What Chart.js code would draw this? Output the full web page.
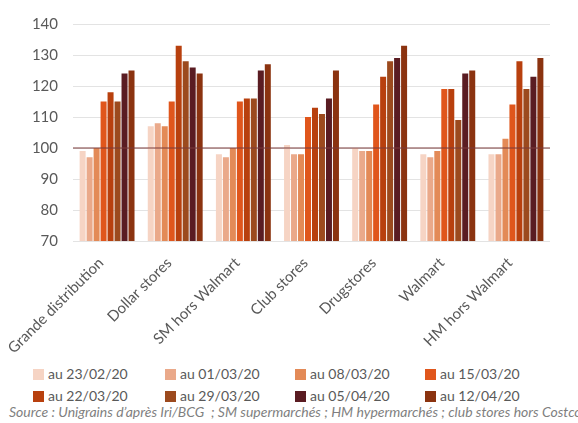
<!DOCTYPE html>
<html><head><meta charset="utf-8">
<script src="https://cdn.jsdelivr.net/npm/chart.js@4"></script>
<style>
html,body{margin:0;padding:0;background:#fff;width:578px;height:423px;overflow:hidden;font-family:Lato,"Open Sans",sans-serif}
#wrap{position:absolute;left:0;top:0;width:578px;height:360px}
.li{position:absolute;font-size:14px;color:#595959;white-space:nowrap;line-height:16px}
.sw{display:inline-block;width:11px;height:11px;margin-right:4px;vertical-align:-1px}
#src{position:absolute;left:9px;top:403px;font-size:14px;font-style:italic;color:#7f7f7f;white-space:nowrap}
</style>
</head><body>
<div id="wrap"><canvas id="c" width="578" height="360"></canvas></div>
<div id="legend"></div>
<div id="src">Source : Unigrains d’après Iri/BCG&nbsp; ; SM supermarchés ; HM hypermarchés ; club stores hors Costco</div>
<script>
const categories = ["Grande distribution","Dollar stores","SM hors Walmart","Club stores","Drugstores","Walmart","HM hors Walmart"];
const seriesLabels = ["au 23/02/20","au 01/03/20","au 08/03/20","au 15/03/20","au 22/03/20","au 29/03/20","au 05/04/20","au 12/04/20"];
const s1 = [99, 107, 98, 101, 100, 98, 98];
const s2 = [97, 108, 97, 98, 99, 97, 98];
const s3 = [100, 107, 100, 98, 99, 99, 103];
const s4 = [115, 115, 115, 110, 114, 119, 114];
const s5 = [118, 133, 116, 113, 123, 119, 128];
const s6 = [115, 128, 116, 111, 128, 109, 119];
const s7 = [124, 126, 125, 116, 129, 124, 123];
const s8 = [125, 124, 127, 125, 133, 125, 129];
const seriesValues = [s1, s2, s3, s4, s5, s6, s7, s8];
const yTicks = [70, 80, 90, 100, 110, 120, 130, 140];
const refValue = 100;

const colors = ["#f6d4c4","#eaa98a","#e38a57","#e0561c","#b8400e","#9c4a1e","#5a1c22","#8b3310"];

const refLine = {
  id: 'refLine',
  afterDatasetsDraw(chart) {
    const y = chart.scales.y.getPixelForValue(refValue);
    const ctx = chart.ctx, a = chart.chartArea;
    ctx.save();
    ctx.strokeStyle = '#7a3a3a';
    ctx.lineWidth = 1.2;
    ctx.beginPath();
    ctx.moveTo(a.left, y); ctx.lineTo(a.right, y);
    ctx.stroke();
    ctx.restore();
  }
};

new Chart(document.getElementById('c'), {
  type: 'bar',
  data: {
    labels: categories,
    datasets: seriesValues.map((v, i) => ({
      label: seriesLabels[i], data: v, backgroundColor: colors[i],
      categoryPercentage: 0.82, barPercentage: 0.86
    }))
  },
  options: {
    responsive: false, animation: false, devicePixelRatio: 1,
    layout: { padding: { top: 17, right: 28, left: 0, bottom: 0 } },
    plugins: { legend: { display: false }, tooltip: { enabled: false } },
    scales: {
      y: {
        min: 70, max: 140,
        afterFit: s => { s.width = 73; },
        afterBuildTicks: s => { s.ticks = yTicks.map(v => ({ value: v })); },
        border: { display: false },
        grid: { color: '#e3e3e3', drawTicks: false, lineWidth: 1 },
        ticks: { color: '#595959', font: { family: 'Lato', size: 15 }, padding: 15 }
      },
      x: {
        afterFit: s => { s.height = 119; },
        border: { display: false },
        grid: { display: false },
        ticks: { color: '#595959', font: { family: 'Lato', size: 15 }, maxRotation: 45, minRotation: 45, padding: 5, labelOffset: -6 }
      }
    }
  },
  plugins: [refLine]
});

const leg = document.getElementById('legend');
const colX = [33, 165, 295, 425];
const rowY = [366, 388];
seriesLabels.forEach((lab, i) => {
  const d = document.createElement('div');
  d.className = 'li';
  d.style.left = colX[i % 4] + 'px';
  d.style.top = rowY[Math.floor(i / 4)] + 'px';
  d.innerHTML = '<span class="sw" style="background:' + colors[i] + '"></span>' + lab;
  leg.appendChild(d);
});
</script>
</body></html>
